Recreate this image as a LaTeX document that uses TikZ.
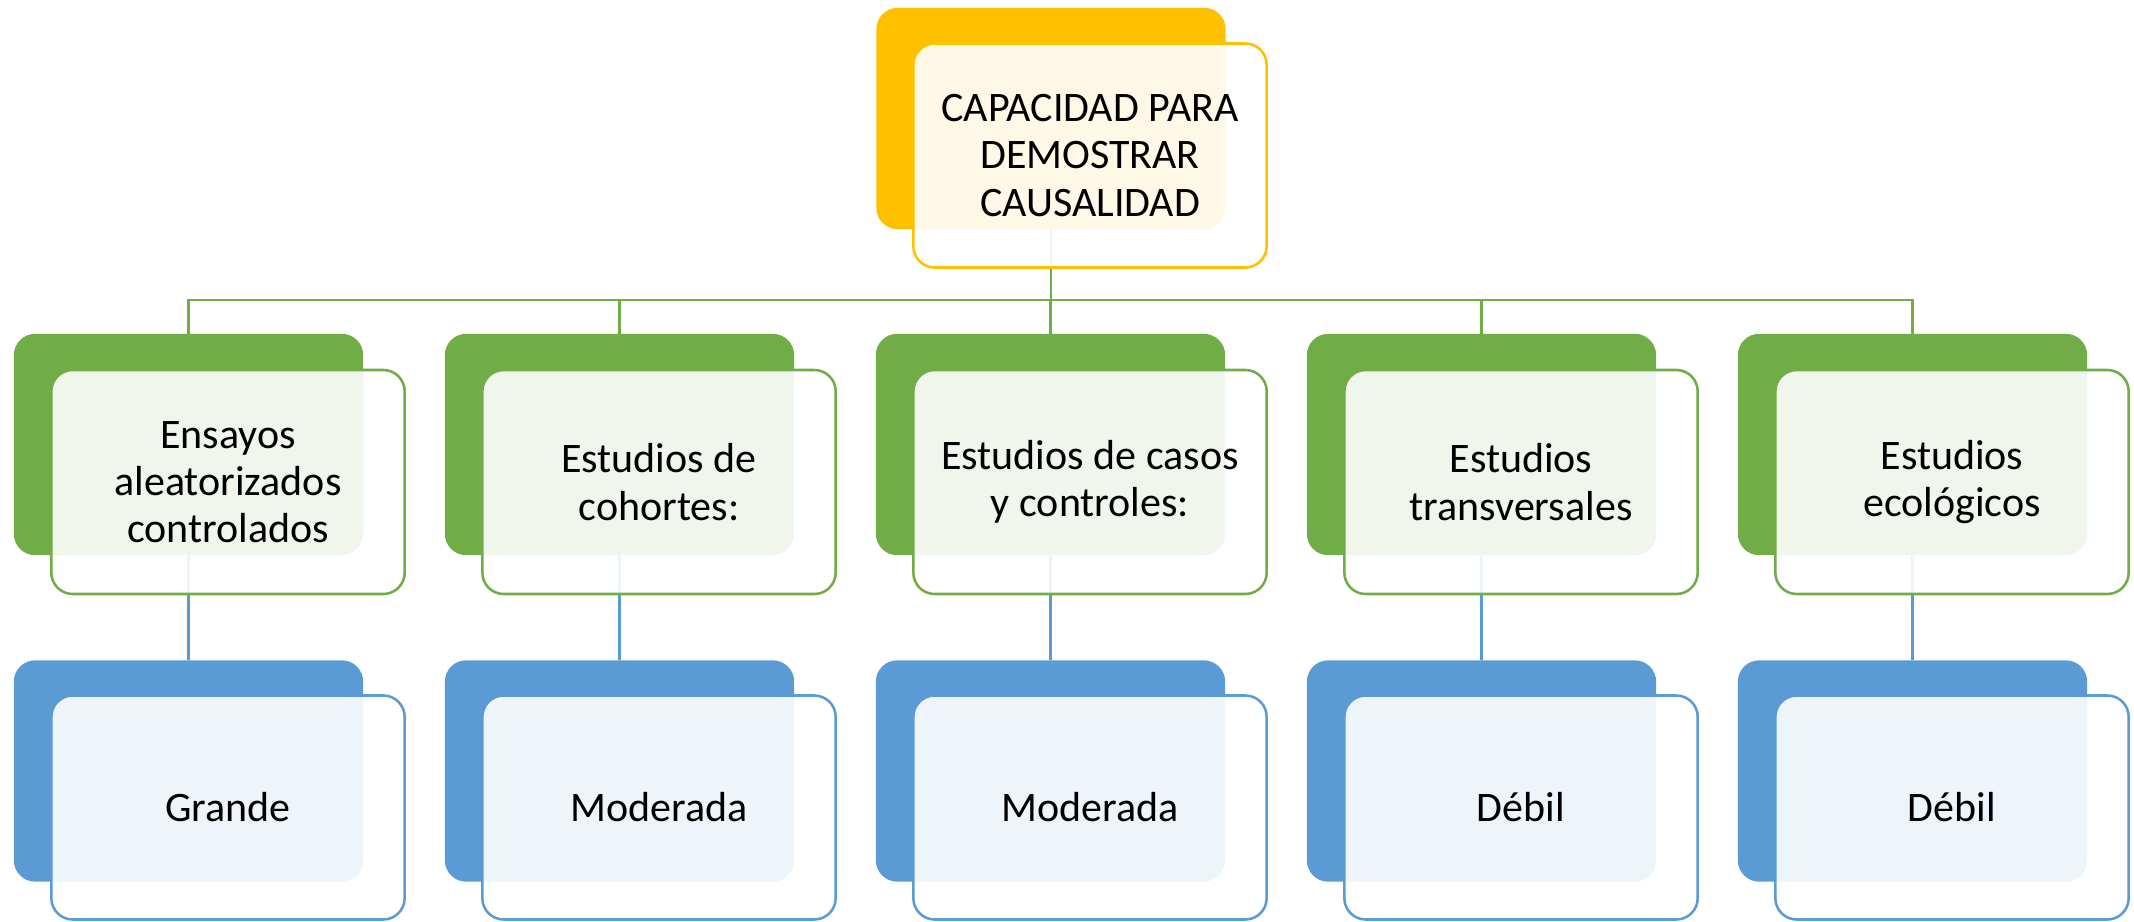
\documentclass[tikz,border=0pt]{standalone}
\usepackage{fontspec}
\setmainfont{Carlito}
\usetikzlibrary{backgrounds}
\definecolor{cOrange}{HTML}{FFC000}
\definecolor{cGreen}{HTML}{70AD47}
\definecolor{cBlue}{HTML}{5B9BD5}
\begin{document}
\begin{tikzpicture}[x=0.75pt,y=-0.75pt,
  backbox/.style={rectangle,rounded corners=16pt,fill=#1,draw=none,
    minimum width=262pt,minimum height=166pt,inner sep=0pt},
  frontbox/.style={rectangle,rounded corners=16pt,draw=#1,line width=1.9pt,
    fill=white,fill opacity=0.9,text opacity=1,
    minimum width=265pt,minimum height=168pt,inner sep=0pt,align=center,
    font=\fontsize{31.5}{35.4}\selectfont},
  link/.style={draw=#1,line width=2pt}]
\useasboundingbox (0,0) rectangle (2134,921);
\coordinate (bus) at (0,300);
% back boxes
\node[backbox=cOrange] (tb) at (1051,118.5) {};
\foreach \i in {0,...,4}{
  \node[backbox=cGreen] (g\i) at (188.5+431*\i,444.5) {};
  \node[backbox=cBlue] (b\i) at (188.5+431*\i,771) {};
}
% connectors behind the boxes
\begin{scope}[on background layer]
\foreach \i in {0,...,4}{
  \draw[link=cGreen] (tb.south) -- (tb.south |- bus) -| (g\i.north);
  \draw[link=cBlue] (g\i.south) -- (b\i.north);
}
\end{scope}
% front boxes
\node[frontbox=cOrange] (tf) at (1090,155.5) {CAPACIDAD PARA\\DEMOSTRAR\\CAUSALIDAD};
\node[frontbox=cGreen] (gf0) at (228,482) {Ensayos\\aleatorizados\\controlados};
\node[frontbox=cGreen] (gf1) at (659,482) {Estudios de\\cohortes:};
\node[frontbox=cGreen] (gf2) at (1090,482) {Estudios de casos\\y controles:};
\node[frontbox=cGreen] (gf3) at (1521,482) {Estudios\\transversales};
\node[frontbox=cGreen] (gf4) at (1952,482) {Estudios\\ecológicos};
\node[frontbox=cBlue] (bf0) at (228,807.5) {Grande};
\node[frontbox=cBlue] (bf1) at (659,807.5) {Moderada};
\node[frontbox=cBlue] (bf2) at (1090,807.5) {Moderada};
\node[frontbox=cBlue] (bf3) at (1521,807.5) {Débil};
\node[frontbox=cBlue] (bf4) at (1952,807.5) {Débil};
\end{tikzpicture}
\end{document}
